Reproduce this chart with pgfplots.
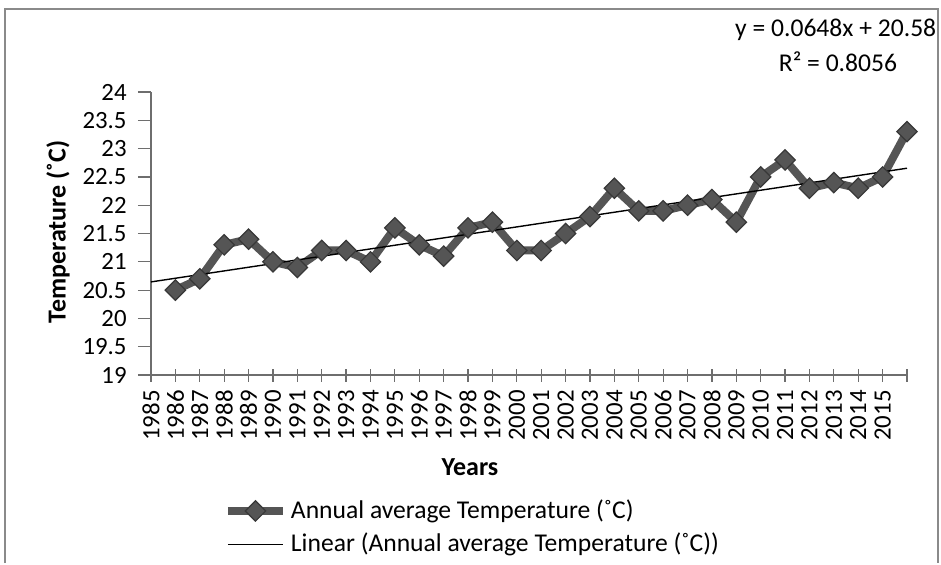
\documentclass[border=0pt]{standalone}
\usepackage{pgfplots}
\pgfplotsset{compat=1.18}
\usepackage{fontspec}
\setmainfont{Carlito}
\definecolor{serie}{HTML}{555555}
\definecolor{serieedge}{HTML}{383838}
\definecolor{axisgray}{HTML}{6E6E6E}
\definecolor{framegray}{HTML}{8A8A8A}
\pgfplotstableread{
pos val
1 20.5
2 20.7
3 21.3
4 21.4
5 21.0
6 20.9
7 21.2
8 21.2
9 21.0
10 21.6
11 21.3
12 21.1
13 21.6
14 21.7
15 21.2
16 21.2
17 21.5
18 21.8
19 22.3
20 21.9
21 21.9
22 22.0
23 22.1
24 21.7
25 22.5
26 22.8
27 22.3
28 22.4
29 22.3
30 22.5
31 23.3
}\tempdata
\newcommand{\tfont}{\fontsize{12.4pt}{14pt}\selectfont}
\newcommand{\lfont}{\fontsize{12.8pt}{15pt}\selectfont}
\begin{document}
\lfont
\begin{tikzpicture}
\path (0,0) rectangle (470.5pt,281.5pt);
\draw[framegray, line width=1pt] (2.5pt,0) -- (2.5pt,277pt) -- (469pt,277pt) -- (469pt,0);
\begin{axis}[
  at={(75.5pt,94pt)}, anchor=south west,
  scale only axis, width=378pt, height=141.5pt,
  xmin=0, xmax=31, ymin=19, ymax=24,
  axis x line=bottom, axis y line=left,
  axis line style={axisgray, line width=0.6pt, -},
  every tick/.style={axisgray, line width=0.6pt},
  tick align=center, major tick length=6.5pt,
  ytick style={xshift=-3.25pt},
  xtick={0,...,31},
  xticklabels={1985,1986,1987,1988,1989,1990,1991,1992,1993,1994,1995,1996,1997,1998,1999,2000,2001,2002,2003,2004,2005,2006,2007,2008,2009,2010,2011,2012,2013,2014,2015,{}},
  ytick={19,19.5,...,24},
  yticklabels={19,19.5,20,20.5,21,21.5,22,22.5,23,23.5,24},
  /pgf/number format/assume math mode=true,
  every tick label/.append style={font=\tfont, black},
  xticklabel style={font=\tfont, rotate=90, anchor=east},
  yticklabel style={font=\tfont, xshift=-4.5pt},
  clip=false,
  legend style={at={(axis description cs:0.096,-0.425)}, anchor=north west,
    draw=none, fill=none, inner sep=0pt, row sep=1.5pt,
    font=\lfont,
    /tikz/every even column/.append style={column sep=0pt}},
  legend cell align=left,
  legend image code/.code={%
    \draw[#1, mark repeat=2, mark phase=2] plot coordinates {(0pt,0pt) (13.75pt,0pt) (27.5pt,0pt)};},
]
\addplot[serie, line width=4pt, mark=square*, mark size=3.6pt,
  mark options={rotate=45, fill=serie, draw=serieedge, line width=0.6pt}]
  table[x=pos, y=val] {\tempdata};
\addlegendentry{Annual average Temperature (˚C)}
\addplot[black, line width=0.7pt, mark=none] coordinates {(0,20.6448) (31,22.6536)};
\addlegendentry{Linear (Annual average Temperature (˚C))}
\end{axis}
\node[rotate=90, font=\fontsize{13pt}{15pt}\selectfont\bfseries] at (29pt,165.5pt) {Temperature (˚C)};
\node[font=\fontsize{13pt}{15pt}\selectfont\bfseries] at (235pt,48pt) {Years};
\node[anchor=east, inner sep=0pt] at (468.3pt,266.5pt) {y = 0.0648x + 20.58};
\node at (419pt,250.5pt) {R² = 0.8056};
\end{tikzpicture}
\end{document}
